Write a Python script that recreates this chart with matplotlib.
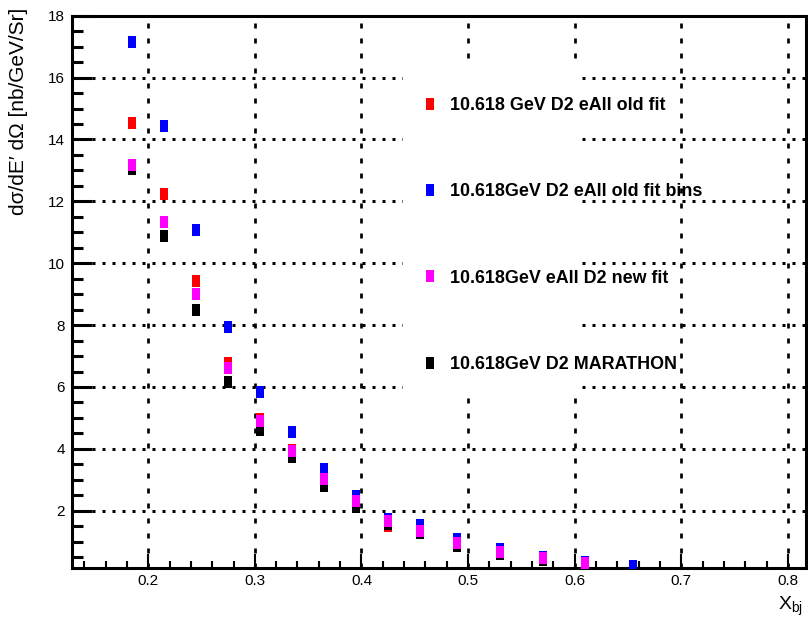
import matplotlib
matplotlib.use("Agg")
import matplotlib.pyplot as plt
from matplotlib.path import Path
from matplotlib.patches import Rectangle

# ---- data: cross section vs Bjorken x, 10.618 GeV D2 ----
x_bj = [0.185, 0.215, 0.245, 0.275, 0.305, 0.335, 0.365, 0.395,
        0.425, 0.455, 0.49, 0.53, 0.57, 0.61, 0.655]
old_fit = [14.53, 12.23, 9.43, 6.77, 4.96, 3.95, 3.05, 2.25,
           1.50, 1.32, 0.90, 0.64, 0.44, 0.28]
old_fit_bins = [17.14, 14.43, 11.07, 7.95, 5.85, 4.54, 3.34, 2.48,
                1.74, 1.54, 1.08, 0.75, 0.50, 0.34, 0.22]
new_fit = [13.17, 11.33, 9.00, 6.60, 4.90, 3.92, 3.03, 2.31,
           1.68, 1.36, 0.97, 0.68, 0.46, 0.30]
marathon = [13.06, 10.87, 8.49, 6.15, 4.61, 3.73, 2.81, 2.11,
            1.57, 1.28, 0.85, 0.60, 0.42, 0.27]

labels = ["10.618 GeV D2 eAll old fit",
          "10.618GeV D2 eAll old fit bins",
          "10.618GeV eAll D2 new fit",
          "10.618GeV D2 MARATHON"]
colors = ["#ff0000", "#0000ff", "#ff00ff", "#000000"]

x_ticks = [0.2, 0.3, 0.4, 0.5, 0.6, 0.7, 0.8]
y_ticks = [2, 4, 6, 8, 10, 12, 14, 16, 18]

# ---- fonts ----
FONT = ["Liberation Sans", "DejaVu Sans"]
plt.rcParams["font.family"] = FONT
plt.rcParams["mathtext.fontset"] = "custom"
plt.rcParams["mathtext.rm"] = "Liberation Sans"
plt.rcParams["lines.scale_dashes"] = False

W, H = 808, 617
fig = plt.figure(figsize=(W / 100, H / 100), dpi=100)


def fx(px):
    return px / W


def fy(py):
    return 1 - py / H


ax = fig.add_axes([fx(72), fy(568), fx(806) - fx(72), fy(15.7) - fy(568)])

# tall rectangular marker
rect = Path([(-0.333, -0.5), (0.333, -0.5), (0.333, 0.5), (-0.333, 0.5), (-0.333, -0.5)],
            closed=True)
ms = 12 * 0.72

series = [old_fit, old_fit_bins, new_fit, marathon]
zorders = [3.0, 3.1, 3.3, 3.2]
handles = []
for vals, c, lab, z in zip(series, colors, labels, zorders):
    h, = ax.plot(x_bj[:len(vals)], vals, linestyle="none", marker=rect,
                 markersize=ms, color=c, markeredgewidth=0, label=lab, zorder=z)
    handles.append(h)

ax.set_xlim(0.1285, 0.817)
ax.set_ylim(0.15, 18)
ax.set_xticks(x_ticks)
ax.set_xticklabels([f"{v:.1f}" for v in x_ticks])
ax.set_xticks([0.14 + 0.02 * i for i in range(34)], minor=True)
ax.set_yticks(y_ticks)
ax.set_yticklabels([str(v) for v in y_ticks])
ax.set_yticks([0.5 * i for i in range(1, 37)], minor=True)

ax.tick_params(axis="both", which="both", direction="in", top=False, right=False)
ax.tick_params(axis="x", which="major", length=10, width=1.5, pad=4, labelsize=11)
ax.tick_params(axis="x", which="minor", length=5, width=1.5)
ax.tick_params(axis="y", which="major", length=14.4, width=2.2, pad=5, labelsize=11)
ax.tick_params(axis="y", which="minor", length=7.7, width=2.2)

for s in ax.spines.values():
    s.set_linewidth(2.2)
    s.set_color("black")

ax.set_axisbelow(True)
ax.yaxis.grid(True, which="major", color="black", linewidth=2.16,
              linestyle=(0, (2.16, 5.04)))
ax.xaxis.grid(True, which="major", color="black", linewidth=1.95,
              linestyle=(0, (3.6, 7.2)))

# white legend panel
panel = Rectangle((fx(403), fy(390)), fx(580) - fx(403), fy(63) - fy(390),
                  transform=fig.transFigure, facecolor="white", edgecolor="none",
                  zorder=1.5, clip_on=False)
ax.add_patch(panel)

leg_fs = 12.9
leg = ax.legend(handles=handles, labels=labels,
                loc="upper left", bbox_to_anchor=(fx(421), fy(97)),
                bbox_transform=fig.transFigure, frameon=False, borderpad=0,
                borderaxespad=0, handlelength=1.0, handletextpad=0.62,
                labelspacing=3.87, numpoints=1,
                prop={"family": FONT, "weight": "bold", "size": leg_fs})
leg.set_zorder(5)

# axis titles
fig.text(fx(19), fy(8), "dσ/dE′ dΩ [nb/GeV/Sr]", rotation=90, ha="center", va="top",
         fontsize=15, family=FONT)
ax.set_xlabel(r"X$_{\mathregular{bj}}$", fontsize=14, ha="right")
ax.xaxis.set_label_coords((803 - 72) / (806 - 72), (568 - 595) / (568 - 15.7))

fig.savefig("out.png", dpi=100)
